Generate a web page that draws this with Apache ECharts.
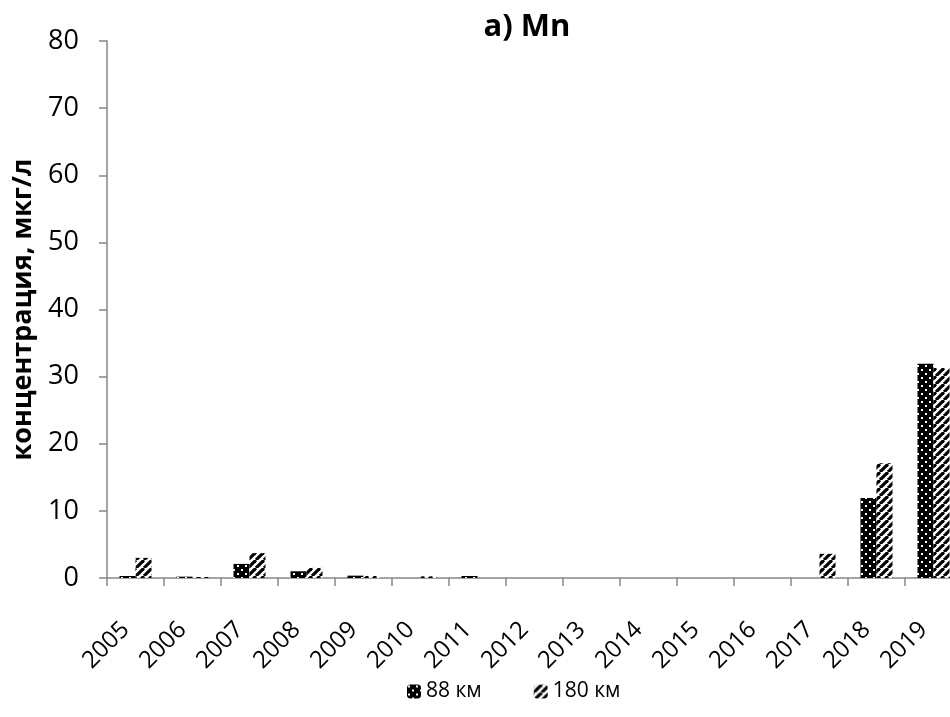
<!DOCTYPE html>
<html>
<head>
<meta charset="utf-8">
<script src="https://cdn.jsdelivr.net/npm/echarts@6/dist/echarts.min.js"></script>
<style>
html,body{margin:0;padding:0;background:#fff;}
#chart{width:950px;height:717px;}
</style>
</head>
<body>
<div id="chart"></div>
<script>
const categories = ['2005','2006','2007','2008','2009','2010','2011','2012','2013','2014','2015','2016','2017','2018','2019'];
const km88 = [0.3, 0.2, 2.1, 1.0, 0.35, 0, 0.3, 0, 0, 0, 0, 0, 0, 11.9, 31.9];
const km180 = [3.0, 0.15, 3.7, 1.5, 0.3, 0.25, 0, 0, 0, 0, 0, 0, 3.6, 17.1, 31.3];
const yTicks = [0, 10, 20, 30, 40, 50, 60, 70, 80];
const seriesNames = ['88 км', '180 км'];

function dotPattern() {
  const c = document.createElement('canvas');
  c.width = 8; c.height = 8;
  const g = c.getContext('2d');
  g.fillStyle = '#000'; g.fillRect(0, 0, 8, 8);
  g.fillStyle = '#fff';
  g.fillRect(1, 1, 2, 2);
  g.fillRect(5, 5, 2, 2);
  return c;
}
function stripePattern() {
  const c = document.createElement('canvas');
  c.width = 8; c.height = 8;
  const g = c.getContext('2d');
  g.fillStyle = '#fff'; g.fillRect(0, 0, 8, 8);
  g.strokeStyle = '#000'; g.lineWidth = 3.2;
  for (const o of [-8, 0, 8]) {
    g.beginPath(); g.moveTo(o, 8); g.lineTo(o + 8, 0); g.stroke();
  }
  return c;
}

const chart = echarts.init(document.getElementById('chart'), null, {renderer: 'canvas'});
const font = '"Open Sans", "DejaVu Sans", sans-serif';
chart.setOption({
  animation: false,
  backgroundColor: '#fff',
  title: {
    text: 'a) Mn', left: 522, top: 7, textAlign: 'center',
    textStyle: {fontFamily: font, fontWeight: 'bold', fontSize: 31, color: '#000'}
  },
  legend: {
    data: seriesNames, left: 402, top: 676, itemWidth: 14, itemHeight: 14, itemGap: 52,
    textStyle: {fontFamily: font, fontSize: 21, color: '#000'}
  },
  grid: {left: 107, right: -12, top: 41, bottom: 139, containLabel: false, outerBoundsMode: 'none'},
  xAxis: {
    type: 'category', data: categories,
    axisLine: {lineStyle: {color: '#868686', width: 1.5}},
    axisTick: {show: true, alignWithLabel: false, length: 8, lineStyle: {color: '#868686', width: 1.5}},
    axisLabel: {rotate: 45, margin: 38, padding: [0, 14, 0, 0], interval: 0, fontFamily: font, fontSize: 24, color: '#000'}
  },
  yAxis: {
    type: 'value', min: yTicks[0], max: yTicks[yTicks.length - 1], interval: 10,
    name: 'концентрация, мкг/л', nameLocation: 'middle', nameGap: 68, nameRotate: 90,
    nameTextStyle: {fontFamily: font, fontWeight: 'bold', fontSize: 27, color: '#000'},
    splitLine: {show: false},
    axisLine: {show: true, lineStyle: {color: '#868686', width: 1.5}},
    axisTick: {show: true, inside: false, length: 8, lineStyle: {color: '#868686', width: 1.5}},
    axisLabel: {margin: 28, fontFamily: font, fontSize: 27, color: '#000'}
  },
  series: [
    {name: seriesNames[0], type: 'bar', data: km88, barWidth: 16, barGap: '0%',
     itemStyle: {color: {image: dotPattern(), repeat: 'repeat'}}},
    {name: seriesNames[1], type: 'bar', data: km180, barWidth: 16, barGap: '0%',
     itemStyle: {color: {image: stripePattern(), repeat: 'repeat'}}}
  ]
});
</script>
</body>
</html>
